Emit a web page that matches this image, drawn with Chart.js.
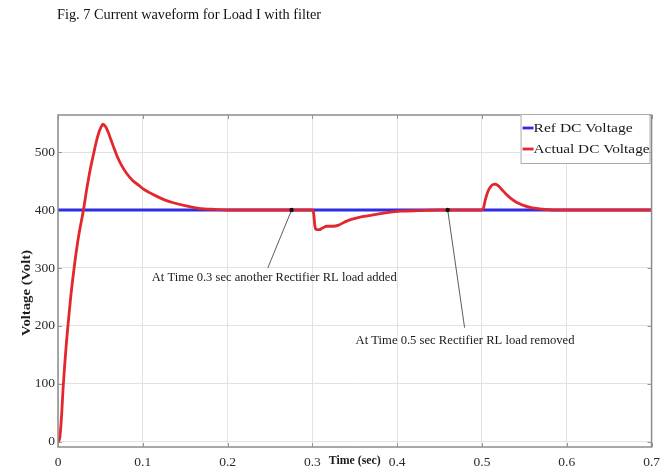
<!DOCTYPE html>
<html>
<head>
<meta charset="utf-8">
<script src="https://cdn.jsdelivr.net/npm/chart.js@4/dist/chart.umd.min.js"></script>
<style>
  html, body { margin: 0; padding: 0; background: #fff; }
  #wrap { position: relative; width: 667px; height: 471px; }
  #cap { position: absolute; left: 57px; top: 6px; font: 14.3px "Liberation Serif", "DejaVu Serif", serif; color: #111; white-space: nowrap; }
  canvas { position: absolute; left: 0; top: 0; }
</style>
</head>
<body>
<div id="wrap">
  <canvas id="c" width="667" height="471"></canvas>
  <div id="cap">Fig. 7 Current waveform for Load I with filter</div>
</div>
<script>
// ---- data ----
const seriesNames = ['Ref DC Voltage', 'Actual DC Voltage'];
const refTime = [0, 0.7];
const refVolt = [400, 400];
const timeSec = [
  0, 0.002, 0.004, 0.006, 0.008, 0.010, 0.012, 0.015, 0.019, 0.024,
  0.03, 0.034, 0.038, 0.042, 0.045, 0.048, 0.051, 0.053, 0.056, 0.059,
  0.062, 0.066, 0.07, 0.075, 0.081, 0.088, 0.095, 0.1, 0.108, 0.116,
  0.125, 0.135, 0.151, 0.166, 0.185, 0.2, 0.25, 0.3,
  0.3015, 0.303, 0.305, 0.308, 0.312, 0.317, 0.324, 0.331, 0.339, 0.346,
  0.354, 0.365, 0.377, 0.39, 0.405, 0.425, 0.45, 0.5,
  0.5015, 0.504, 0.507, 0.51, 0.513, 0.516, 0.519, 0.523, 0.528, 0.534,
  0.541, 0.549, 0.558, 0.568, 0.58, 0.6, 0.65, 0.7
];
const actualVolt = [
  0, 6, 40, 92, 135, 172, 205, 250, 300, 352,
  400, 437, 470, 497, 517, 533, 544, 548, 544, 535,
  523, 507, 492, 477, 463, 451, 443, 437, 430, 424,
  418, 413, 407, 403, 401, 400, 400, 400,
  394, 372, 366, 366, 369, 372, 372, 374, 380, 384,
  387, 390, 393, 396, 398, 399, 400, 400,
  402, 418, 432, 440, 444, 444.5, 442, 436, 428, 420,
  413, 408, 404, 402, 400.5, 400, 400, 400
];
const xTicks = [0, 0.1, 0.2, 0.3, 0.4, 0.5, 0.6, 0.7];
const yTicks = [0, 100, 200, 300, 400, 500];
const xTitle = 'Time (sec)';
const yTitle = 'Voltage (Volt)';
const noteTexts = ['At Time 0.3 sec another Rectifier RL load added', 'At Time 0.5 sec Rectifier RL load removed'];

// annotation anchors (in data units)
const notes = [
  { text: noteTexts[0], dot: [0.2755, 400], end: [0.2474, 300], at: [0.255, 283], w: 245 },
  { text: noteTexts[1], dot: [0.4596, 400], end: [0.4795, 197], at: [0.48, 174], w: 219 }
];

const SERIF = '"Liberation Serif", "DejaVu Serif", serif';
const BLUE = 'rgb(45,45,225)';
const RED = 'rgb(228,38,45)';

function fitText(ctx, text, x, y, w, align) {
  const m = ctx.measureText(text).width;
  const s = w / m;
  ctx.save();
  ctx.translate(x, y);
  ctx.scale(s, 1);
  ctx.textAlign = align || 'center';
  ctx.fillText(text, 0, 0);
  ctx.restore();
}

const extras = {
  id: 'extras',
  beforeDatasetsDraw(chart) {
    const { ctx, chartArea: a, scales: { x, y } } = chart;
    ctx.save();
    ctx.strokeStyle = 'rgb(150,150,150)';
    ctx.lineWidth = 1;
    const tl = 4;
    xTicks.forEach(v => {
      const px = Math.round(x.getPixelForValue(v)) + 0.5;
      ctx.beginPath();
      ctx.moveTo(px, a.bottom); ctx.lineTo(px, a.bottom - tl);
      ctx.moveTo(px, a.top); ctx.lineTo(px, a.top + tl);
      ctx.stroke();
    });
    yTicks.forEach(v => {
      const py = Math.round(y.getPixelForValue(v)) + 0.5;
      ctx.beginPath();
      ctx.moveTo(a.left, py); ctx.lineTo(a.left + tl, py);
      ctx.moveTo(a.right, py); ctx.lineTo(a.right - tl, py);
      ctx.stroke();
    });
    ctx.restore();
  },
  afterDraw(chart) {
    const { ctx, chartArea: a, scales: { x, y } } = chart;
    ctx.save();
    // frame
    ctx.strokeStyle = 'rgb(140,140,140)';
    ctx.lineWidth = 1.5;
    ctx.strokeRect(a.left, a.top, a.right - a.left, a.bottom - a.top);

    // annotations
    ctx.strokeStyle = '#333';
    ctx.lineWidth = 0.8;
    ctx.font = '12px ' + SERIF;
    ctx.textBaseline = 'middle';
    notes.forEach(n => {
      const dx = x.getPixelForValue(n.dot[0]), dy = y.getPixelForValue(n.dot[1]);
      const ex = x.getPixelForValue(n.end[0]), ey = y.getPixelForValue(n.end[1]);
      ctx.beginPath(); ctx.moveTo(dx, dy); ctx.lineTo(ex, ey); ctx.stroke();
      ctx.beginPath(); ctx.arc(dx, dy, 2.2, 0, Math.PI * 2); ctx.fillStyle = '#111'; ctx.fill();
      ctx.fillStyle = '#1a1a1a';
      fitText(ctx, n.text, x.getPixelForValue(n.at[0]), y.getPixelForValue(n.at[1]), n.w, 'center');
    });

    // legend box
    const bx = a.right - 131, by = a.top - 1, bw = 129, bh = 49;
    ctx.fillStyle = '#fff';
    ctx.fillRect(bx, by, bw, bh);
    ctx.strokeStyle = 'rgb(170,170,170)';
    ctx.lineWidth = 1;
    ctx.strokeRect(bx + 0.5, by + 0.5, bw, bh);
    ctx.font = '13.5px ' + SERIF;
    ctx.textBaseline = 'middle';
    const items = [
      { name: seriesNames[0], color: BLUE, yy: by + 14, w: 99 },
      { name: seriesNames[1], color: RED, yy: by + 35, w: 116 }
    ];
    items.forEach(it => {
      ctx.strokeStyle = it.color; ctx.lineWidth = 2.8;
      ctx.beginPath(); ctx.moveTo(bx + 2, it.yy); ctx.lineTo(bx + 13, it.yy); ctx.stroke();
      ctx.fillStyle = '#1a1a1a';
      fitText(ctx, it.name, bx + 13, it.yy, it.w, 'left');
    });

    // axis titles
    ctx.fillStyle = '#1a1a1a';
    ctx.font = 'bold 12px ' + SERIF;
    ctx.textBaseline = 'middle';
    fitText(ctx, xTitle, (a.left + a.right) / 2, a.bottom + 14, 52, 'center');
    ctx.save();
    ctx.translate(27, y.getPixelForValue(257));
    ctx.rotate(-Math.PI / 2);
    fitText(ctx, yTitle, 0, 0, 86, 'center');
    ctx.restore();
    ctx.restore();
  }
};

const chart = new Chart(document.getElementById('c'), {
  type: 'line',
  data: {
    datasets: [
      {
        label: seriesNames[0],
        data: refTime.map((t, i) => ({ x: t, y: refVolt[i] })),
        borderColor: BLUE, borderWidth: 3, pointRadius: 0, order: 2
      },
      {
        label: seriesNames[1],
        data: timeSec.map((t, i) => ({ x: t, y: actualVolt[i] })),
        borderColor: RED, borderWidth: 2.8, pointRadius: 0, order: 1,
        cubicInterpolationMode: 'monotone'
      }
    ]
  },
  options: {
    responsive: false,
    animation: false,
    devicePixelRatio: 1,
    layout: { padding: { top: 115, right: 12, left: 0, bottom: 0 } },
    plugins: { legend: { display: false }, tooltip: { enabled: false }, title: { display: false } },
    scales: {
      x: {
        type: 'linear', min: 0, max: 0.7,
        afterBuildTicks: s => { s.ticks = xTicks.map(v => ({ value: v })); },
        afterFit: s => { s.height = 24; },
        grid: { color: 'rgb(226,226,226)', lineWidth: 1, drawTicks: false },
        border: { display: false },
        ticks: {
          padding: 7, autoSkip: false, maxRotation: 0,
          color: '#2a2a2a', font: { family: SERIF, size: 13.5 },
          callback: v => String(Math.round(v * 10) / 10)
        }
      },
      y: {
        type: 'linear', min: -9, max: 564,
        afterBuildTicks: s => { s.ticks = yTicks.map(v => ({ value: v })); },
        afterFit: s => { s.width = 58; },
        grid: { color: 'rgb(226,226,226)', lineWidth: 1, drawTicks: false },
        border: { display: false },
        ticks: {
          padding: 3, color: '#2a2a2a', font: { family: SERIF, size: 13.5 },
          callback: v => String(v)
        }
      }
    }
  },
  plugins: [extras]
});
</script>
</body>
</html>
